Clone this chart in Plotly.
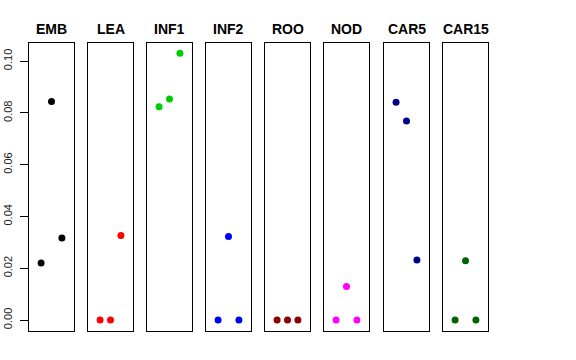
import plotly.graph_objects as go
from plotly.subplots import make_subplots

categories = ["EMB", "LEA", "INF1", "INF2", "ROO", "NOD", "CAR5", "CAR15"]
replicates = [1, 2, 3]
values = {
    "EMB":   [0.0220, 0.0844, 0.0317],
    "LEA":   [0.0, 0.0, 0.0327],
    "INF1":  [0.0824, 0.0854, 0.1030],
    "INF2":  [0.0, 0.0323, 0.0],
    "ROO":   [0.0, 0.0, 0.0],
    "NOD":   [0.0, 0.0130, 0.0],
    "CAR5":  [0.0841, 0.0769, 0.0232],
    "CAR15": [0.0, 0.0229, 0.0],
}
colors = ["#000000", "#FF0000", "#00CD00", "#0000FF", "#8B0000", "#FF00FF", "#00008B", "#006400"]
y_ticks = [0.00, 0.02, 0.04, 0.06, 0.08, 0.10]

W, H = 576, 360
lefts = [29, 88, 147, 206, 265, 324, 384, 443]
pw = 45
top_px, bot_px = 42.7, 330.7

fig = make_subplots(rows=1, cols=len(categories), shared_yaxes=False)
ymin, ymax = -0.0041, 0.1071
for i, (cat, col) in enumerate(zip(categories, colors)):
    fig.add_trace(go.Scatter(x=replicates, y=values[cat], mode="markers",
                             marker=dict(color=col, size=7), showlegend=False,
                             hoverinfo="skip"), row=1, col=i + 1)
    xa = "xaxis" if i == 0 else f"xaxis{i+1}"
    ya = "yaxis" if i == 0 else f"yaxis{i+1}"
    l = lefts[i]
    fig.layout[xa].update(domain=[l / W, (l + pw) / W], range=[-0.16, 4.16],
                          showticklabels=False, ticks="", showgrid=False, zeroline=False,
                          automargin=False,
                          showline=True, mirror=True, linecolor="black", linewidth=1)
    fig.layout[ya].update(domain=[1 - bot_px / H, 1 - top_px / H], range=[ymin, ymax],
                          showgrid=False, zeroline=False, automargin=False,
                          showline=True, mirror=True, linecolor="black", linewidth=1)
    if i == 0:
        fig.layout[ya].update(tickvals=y_ticks, ticktext=[f"{v:.2f}" for v in y_ticks],
                              ticks="outside", ticklen=8, tickcolor="black", tickangle=-90,
                              ticklabelstandoff=4,
                              tickfont=dict(family="Liberation Sans", size=11, color="#222222"))
    else:
        fig.layout[ya].update(showticklabels=False, ticks="")
    fig.add_annotation(text=f"<b>{cat}</b>", x=(l + pw / 2) / W, y=1 - 29.0 / H,
                       xref="paper", yref="paper", showarrow=False,
                       xanchor="center", yanchor="middle",
                       font=dict(family="Liberation Sans", size=14, color="black"))

fig.update_layout(width=W, height=H, margin=dict(l=0, r=0, t=0, b=0),
                  paper_bgcolor="white", plot_bgcolor="white")
fig.write_html("out.html", config={"displayModeBar": False},
               post_script="document.body.style.margin='0';")
